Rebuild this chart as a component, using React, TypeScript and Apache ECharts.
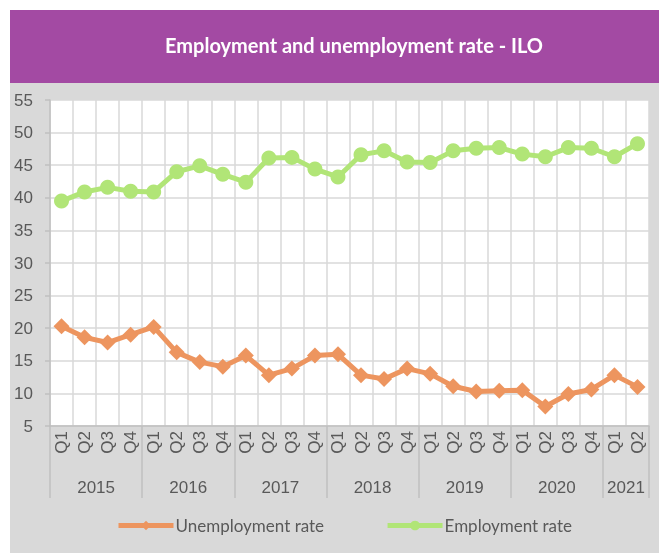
import React, { useEffect, useRef } from "react";
import * as echarts from "echarts";

const quarters = [
  "Q1","Q2","Q3","Q4","Q1","Q2","Q3","Q4","Q1","Q2","Q3","Q4",
  "Q1","Q2","Q3","Q4","Q1","Q2","Q3","Q4","Q1","Q2","Q3","Q4","Q1","Q2",
];
const years = ["2015", "2016", "2017", "2018", "2019", "2020", "2021"];
const yearStarts = [0, 4, 8, 12, 16, 20, 24, 26];
const yearLabelPos = [2, 6, 10, 14, 18, 22, 25];

const unemployment = [
  20.3, 18.6, 17.8, 19.0, 20.2, 16.3, 14.8, 14.1, 15.8, 12.8, 13.8, 15.8,
  16.0, 12.8, 12.2, 13.8, 13.0, 11.1, 10.3, 10.4, 10.5, 8.0, 9.9, 10.6, 12.8, 11.0,
];
const employment = [
  39.5, 40.9, 41.6, 41.0, 40.9, 44.0, 44.9, 43.6, 42.4, 46.1, 46.2, 44.4,
  43.2, 46.6, 47.2, 45.5, 45.4, 47.2, 47.6, 47.7, 46.7, 46.3, 47.7, 47.6, 46.3, 48.3,
];

const TITLE = "Employment and unemployment rate - ILO";
const ORANGE = "#ED955F";
const GREEN = "#B1E577";
const PURPLE = "#A34AA3";
const GRAYBG = "#D9D9D9";
const TEXT = "#595959";
const GRID = "#D9D9D9";
const AXIS = "#BFBFBF";

export default function App() {
  const ref = useRef<HTMLDivElement>(null);
  useEffect(() => {
    if (!ref.current) return;
    const chart = echarts.init(ref.current, undefined, { renderer: "svg" });
    chart.setOption({
      animation: false,
      graphic: [
        { type: "rect", z: -10, shape: { x: 10, y: 10, width: 649, height: 73 }, style: { fill: PURPLE } },
        { type: "rect", z: -10, shape: { x: 10, y: 83, width: 649, height: 470 }, style: { fill: GRAYBG } },
        {
          type: "text",
          x: 354,
          y: 45,
          style: {
            text: TITLE,
            fill: "#ffffff",
            font: "bold 20px Lato",
            textAlign: "center",
            textVerticalAlign: "middle",
          },
        },
      ],
      grid: {
        left: 50,
        top: 100,
        width: 599,
        height: 326,
        show: true,
        backgroundColor: "#ffffff",
        borderWidth: 0,
        containLabel: false,
      },
      legend: {
        left: 111,
        top: 512,
        itemWidth: 55,
        itemHeight: 12,
        itemGap: 61,
        lineStyle: { width: 5 },
        textStyle: { color: TEXT, fontFamily: "Lato", fontSize: 17, padding: [0, 0, 0, -3] },
        data: ["Unemployment rate", "Employment rate"],
      },
      xAxis: [
        {
          type: "category",
          data: quarters,
          boundaryGap: true,
          position: "bottom",
          axisLine: { show: true, lineStyle: { color: AXIS, width: 1.5 } },
          axisTick: { show: false },
          axisLabel: {
            interval: 0,
            rotate: 90,
            margin: 5,
            color: TEXT,
            fontFamily: "Liberation Sans, Arial",
            fontSize: 17,
          },
          splitLine: { show: true, interval: 0, lineStyle: { color: GRID, width: 1.5 } },
        },
        {
          type: "value",
          min: 0,
          max: 26,
          position: "bottom",
          axisLine: { show: false },
          splitLine: { show: false },
          axisTick: {
            show: true,
            customValues: yearStarts,
            length: 72,
            lineStyle: { color: AXIS, width: 1.5 },
          },
          axisLabel: {
            customValues: yearLabelPos,
            formatter: (v: number) => years[yearLabelPos.indexOf(v)] ?? "",
            margin: 53,
            color: TEXT,
            fontFamily: "Liberation Sans, Arial",
            fontSize: 17,
          },
        },
      ],
      yAxis: {
        type: "value",
        min: 5,
        max: 55,
        interval: 5,
        axisLine: { show: true, lineStyle: { color: AXIS, width: 1.5 } },
        axisTick: { show: true, length: 5, lineStyle: { color: AXIS, width: 1.5 } },
        axisLabel: {
          margin: 17,
          color: TEXT,
          fontFamily: "Liberation Sans, Arial",
          fontSize: 17,
        },
        splitLine: { show: true, lineStyle: { color: GRID, width: 1.5 } },
      },
      series: [
        {
          name: "Unemployment rate",
          type: "line",
          xAxisIndex: 0,
          data: unemployment,
          symbol: "diamond",
          symbolSize: 16,
          lineStyle: { color: ORANGE, width: 5 },
          itemStyle: { color: ORANGE },
        },
        {
          name: "Employment rate",
          type: "line",
          xAxisIndex: 0,
          data: employment,
          symbol: "circle",
          symbolSize: 15,
          lineStyle: { color: GREEN, width: 5 },
          itemStyle: { color: GREEN },
        },
      ],
    });
    return () => chart.dispose();
  }, []);
  return (
    <div
      ref={ref}
      style={{ position: "fixed", left: 0, top: 0, width: 659, height: 553 }}
    />
  );
}
